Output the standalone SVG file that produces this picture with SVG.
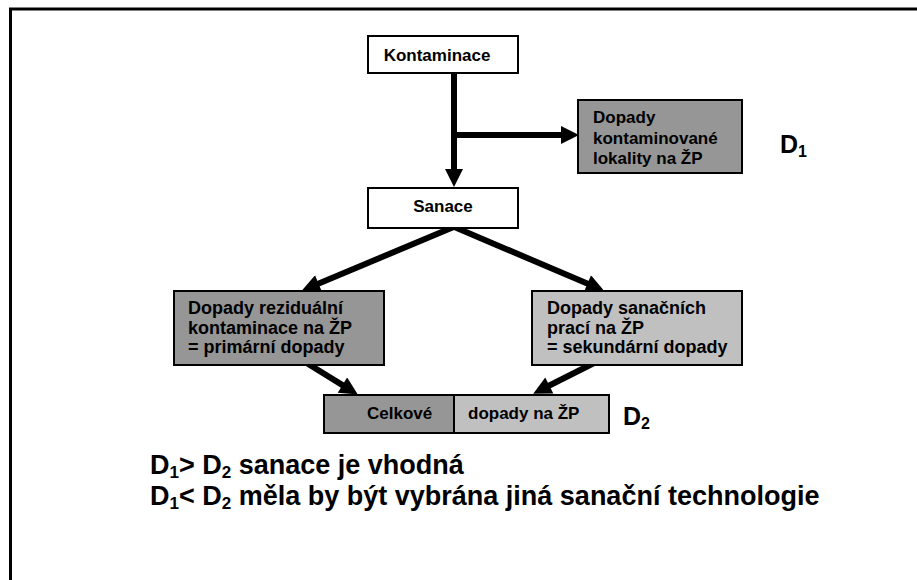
<svg xmlns="http://www.w3.org/2000/svg" width="917" height="580" viewBox="0 0 917 580">
<style>
.t{font-family:"Liberation Sans",Arial,sans-serif;font-weight:bold;fill:#000}
.box{stroke:#000;stroke-width:2}
.w{fill:#fff}.d{fill:#969696}.l{fill:#c0c0c0}
.c{stroke:#000;stroke-width:6;fill:none}
</style>
<defs>
<marker id="ah" markerUnits="userSpaceOnUse" markerWidth="20" markerHeight="18" refX="1" refY="9" orient="auto" viewBox="0 0 19 18">
<path d="M0,0 L18,9 L0,18 z" fill="#000"/>
</marker>
</defs>
<rect x="10.5" y="9" width="920" height="590" fill="none" stroke="#000" stroke-width="3"/>
<g id="connectors">
<line class="c" x1="454" y1="70" x2="454" y2="170" marker-end="url(#ah)"/>
<line class="c" x1="451" y1="135" x2="562" y2="135" marker-end="url(#ah)"/>
<line class="c" x1="456" y1="226" x2="317.6" y2="284" marker-end="url(#ah)"/>
<line class="c" x1="452" y1="226" x2="588.4" y2="284" marker-end="url(#ah)"/>
<line class="c" x1="305" y1="362" x2="343.3" y2="385.6" marker-end="url(#ah)"/>
<line class="c" x1="596" y1="362" x2="548.4" y2="386" marker-end="url(#ah)"/>
</g>
<g id="kontaminace">
<rect class="box w" x="368" y="36" width="150" height="37"/>
<text class="t" x="437" y="61" font-size="17" text-anchor="middle">Kontaminace</text>
</g>
<g id="dopady-lokality">
<rect class="box d" x="578" y="100" width="164" height="73"/>
<text class="t" font-size="17"><tspan x="593" y="123">Dopady</tspan><tspan x="593" y="143.5">kontaminované</tspan><tspan x="593" y="164">lokality na ŽP</tspan></text>
</g>
<g id="d1">
<text class="t" x="780" y="153" font-size="25">D<tspan font-size="16" dy="4">1</tspan></text>
</g>
<g id="sanace">
<rect class="box w" x="368" y="188" width="150" height="40"/>
<text class="t" x="443" y="212" font-size="17" text-anchor="middle">Sanace</text>
</g>
<g id="primarni">
<rect class="box d" x="174" y="291" width="210" height="74"/>
<text class="t" font-size="18"><tspan x="188" y="314">Dopady reziduální</tspan><tspan x="188" y="333.5">kontaminace na ŽP</tspan><tspan x="188" y="353">= primární dopady</tspan></text>
</g>
<g id="sekundarni">
<rect class="box l" x="532" y="291" width="210" height="74"/>
<text class="t" font-size="18"><tspan x="547" y="314">Dopady sanačních</tspan><tspan x="547" y="333.5">prací na ŽP</tspan><tspan x="547" y="353">= sekundární dopady</tspan></text>
</g>
<g id="celkove">
<rect class="box d" x="324" y="395" width="130" height="38"/>
<rect class="box l" x="454" y="395" width="155" height="38"/>
<text class="t" x="367" y="419" font-size="17">Celkové</text>
<text class="t" x="468" y="419" font-size="17">dopady na ŽP</text>
</g>
<g id="d2">
<text class="t" x="623" y="425" font-size="25">D<tspan font-size="16" dy="4">2</tspan></text>
</g>
<g id="vysledek">
<text class="t" x="150" y="474" font-size="27">D<tspan font-size="17" dy="4">1</tspan><tspan dy="-4">&gt; D</tspan><tspan font-size="17" dy="4">2</tspan><tspan dy="-4"> sanace je vhodná</tspan></text>
<text class="t" x="150" y="505" font-size="27">D<tspan font-size="17" dy="4">1</tspan><tspan dy="-4">&lt; D</tspan><tspan font-size="17" dy="4">2</tspan><tspan dy="-4"> měla by být vybrána jiná sanační technologie</tspan></text>
</g>
</svg>
